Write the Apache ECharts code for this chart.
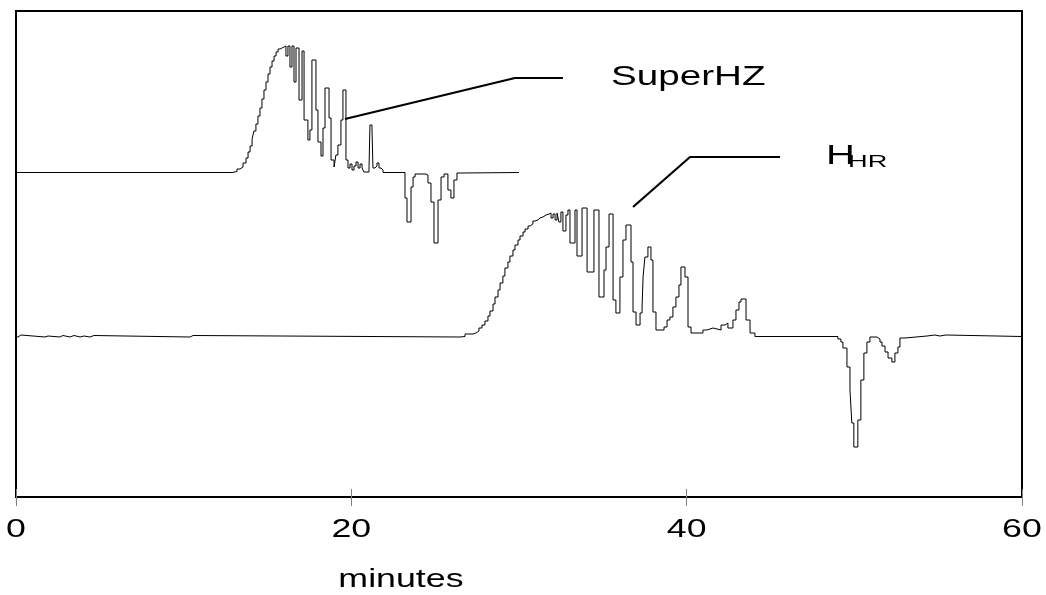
<!DOCTYPE html>
<html><head><meta charset="utf-8">
<script src="https://cdn.jsdelivr.net/npm/echarts/dist/echarts.min.js"></script>
<style>html,body{margin:0;padding:0;background:#fff}#c{width:1046px;height:595px}</style>
</head><body><div id="c"></div>
<script>
// ---- data (minutes, detector response in arbitrary units) ----
const superTimes = [
  0, 12.88, 13.18, 13.36, 13.54, 13.72, 13.84, 13.96, 14.08, 14.19,
  14.31, 14.43, 14.55, 14.67, 14.79, 14.91, 15.03, 15.15, 15.27, 15.39,
  15.51, 15.63, 15.75, 15.92, 16.10, 16.22, 16.34, 16.46, 16.58, 16.70,
  16.88, 17.06, 17.18, 17.41, 17.53, 17.65, 17.89, 18.01, 18.19, 18.31,
  18.43, 18.67, 18.79, 18.97, 19.08, 19.20, 19.38, 19.50, 19.68, 19.80,
  19.92, 20.04, 20.16, 20.28, 20.40, 20.52, 20.64, 20.75, 21.05, 21.11,
  21.23, 21.29, 21.41, 21.53, 21.65, 21.77, 21.89, 23.20, 23.32, 23.56,
  23.68, 23.80, 24.45, 24.57, 24.75, 24.93, 25.17, 25.35, 25.53, 25.76,
  25.94, 26.12, 26.30, 26.54, 30.00
];
const superValues = [
  324.5, 325.5, 328, 330, 334, 339, 345, 351, 358, 366,
  373, 381, 389, 398, 407, 415, 423, 430, 436, 441,
  445, 448, 449.5, 451, 441, 451, 430, 451, 415, 449,
  397, 446, 377, 357, 367, 437, 387, 355, 341, 369,
  409, 379, 337, 330, 342, 352, 377, 407, 337, 329,
  333, 327, 331, 335, 329, 333, 329, 325, 327, 372,
  369, 329, 331, 334, 329, 327, 324.5, 299, 275, 310,
  320, 323, 322, 314, 295, 254, 297, 320, 323, 307,
  299, 317, 324, 324.5, 324.5
];
const hhrTimes = [
  0, 0.12, 0.30, 1.73, 1.91, 2.62, 2.80, 3.22, 3.46, 3.82,
  4.06, 4.41, 4.65, 10.38, 10.56, 26.48, 26.78, 27.26, 27.43, 27.61,
  27.79, 27.97, 28.15, 28.27, 28.45, 28.57, 28.75, 28.87, 29.04, 29.16,
  29.34, 29.46, 29.64, 29.76, 29.94, 30.06, 30.24, 30.36, 30.54, 30.66,
  30.83, 30.95, 31.13, 31.25, 31.43, 31.61, 31.79, 31.91, 32.03, 32.15,
  32.27, 32.38, 32.50, 32.62, 32.80, 32.92, 33.04, 33.34, 33.46, 33.76,
  34.06, 34.47, 34.77, 35.07, 35.19, 35.37, 35.61, 35.78, 36.02, 36.20,
  36.38, 36.68, 36.80, 36.98, 37.22, 37.34, 37.40, 37.51, 37.69, 37.87,
  37.99, 38.17, 38.65, 38.83, 39.00, 39.18, 39.36, 39.54, 39.66, 39.90,
  40.08, 40.26, 40.97, 41.21, 41.57, 41.81, 42.05, 42.29, 42.46, 42.76,
  42.94, 43.12, 43.24, 43.54, 43.78, 44.07, 49.02, 49.20, 49.32, 49.56,
  49.74, 49.85, 49.97, 50.21, 50.39, 50.57, 50.75, 50.93, 51.35, 51.53,
  51.65, 51.83, 52.01, 52.24, 52.42, 52.60, 52.72, 53.02, 54.33, 54.81,
  55.10, 55.47, 60
];
const hhrValues = [
  160, 162, 160, 161, 160, 161.5, 160, 161.5, 160, 161,
  160, 161.5, 160, 161.5, 160, 160.5, 163, 164, 166, 169,
  172, 176, 181, 186, 193, 200, 207, 214, 221, 229,
  235, 241, 247, 252, 257, 261, 265, 268, 271, 273,
  276, 277, 279, 280, 282, 283, 284, 279, 283, 277,
  284, 275, 285, 266, 282, 287, 254, 287, 241, 289,
  225, 287, 200, 227, 250, 283, 197, 184, 220, 257,
  272, 235, 185, 172, 184, 190, 220, 240, 250, 237,
  185, 167, 170, 177, 180, 190, 200, 212, 230, 220,
  170, 164, 167, 169, 168, 167, 172, 174, 169, 177,
  187, 195, 198, 177, 164, 160.5, 158, 155, 149, 130,
  107, 74, 50, 77, 117, 144, 155, 160, 158, 155,
  151, 145, 139, 135, 144, 150, 159, 161, 162, 161,
  162, 160.5, 160.5
];
const xTicks = [0, 20, 40, 60];
const xTickLabels = ['0', '20', '40', '60'];
const xTitle = 'minutes';
const xTitleAt = 22.96;
const superLabel = 'SuperHZ';
const hhrLabel = 'H';
const hhrSub = 'HR';
const superLeader = [[19.62, 378], [29.76, 419], [32.62, 419]];
const hhrLeader = [[36.80, 290], [40.20, 340], [45.57, 340]];
const superLabelAt = [35.49, 419];
const hhrLabelAt = [48.31, 342];

// ---- chart ----
const pairs = (xs, ys) => xs.map((x, i) => [x, ys[i]]);
const chart = echarts.init(document.getElementById('c'), null, {renderer: 'canvas'});
const traceStyle = {color: '#000', width: 1};
chart.setOption({
  animation: false,
  backgroundColor: '#fff',
  grid: {left: 16, right: 24, top: 11, bottom: 98, show: true, borderColor: '#000', borderWidth: 2, backgroundColor: 'transparent'},
  xAxis: [
    {type: 'value', min: 0, max: 60, interval: 20,
     axisLine: {show: true, lineStyle: {color: '#000', width: 2}},
     axisTick: {show: true, length: 9, lineStyle: {color: '#808080', width: 1}},
     axisLabel: {show: false}, splitLine: {show: false}},
    {type: 'value', min: 0, max: 60, interval: 20, position: 'bottom',
     axisLine: {show: false},
     axisTick: {show: true, inside: true, length: 8, lineStyle: {color: '#808080', width: 1}},
     axisLabel: {show: false}, splitLine: {show: false}}
  ],
  yAxis: {type: 'value', min: 0, max: 486, show: false, splitLine: {show: false}},
  series: [
    {name: superLabel, type: 'line', step: 'end', showSymbol: false, symbol: 'none',
     lineStyle: traceStyle, data: pairs(superTimes, superValues), z: 3},
    {name: 'HHR', type: 'line', step: 'end', showSymbol: false, symbol: 'none',
     lineStyle: traceStyle, data: pairs(hhrTimes, hhrValues), z: 3},
    {type: 'line', showSymbol: false, symbol: 'none', lineStyle: {color: '#000', width: 2.2},
     data: superLeader, z: 4},
    {type: 'line', showSymbol: false, symbol: 'none', lineStyle: {color: '#000', width: 2.2},
     data: hhrLeader, z: 4}
  ]
});

const px = (t, v) => chart.convertToPixel({xAxisIndex: 0, yAxisIndex: 0}, [t, v]);
const FONT = '"Liberation Sans", Arial, sans-serif';
const SX = 1.43;
function txt(s, x, y, size, align, valign, sx) {
  return {type: 'text', x: x, y: y, scaleX: sx || SX, z: 10,
    style: {text: s, fontSize: size, fontFamily: FONT, fill: '#000',
      align: align, textAlign: align, verticalAlign: valign, textVerticalAlign: valign}};
}
const g = [];
xTicks.forEach((t, i) => {
  const p = px(t, 0);
  g.push(txt(xTickLabels[i], p[0], 530, 25, 'center', 'middle'));
});
g.push(txt(xTitle, px(xTitleAt, 0)[0], 580, 25, 'center', 'middle'));
const sp = px(superLabelAt[0], superLabelAt[1]);
g.push(txt(superLabel, sp[0], sp[1], 27, 'left', 'middle'));
const hp = px(hhrLabelAt[0], hhrLabelAt[1]);
g.push(txt(hhrLabel, hp[0], hp[1] + 15, 28, 'left', 'bottom'));
g.push(txt(hhrSub, hp[0] + 22, hp[1] + 16, 17, 'left', 'bottom', 1.6));
chart.setOption({graphic: g});
</script>
</body></html>
